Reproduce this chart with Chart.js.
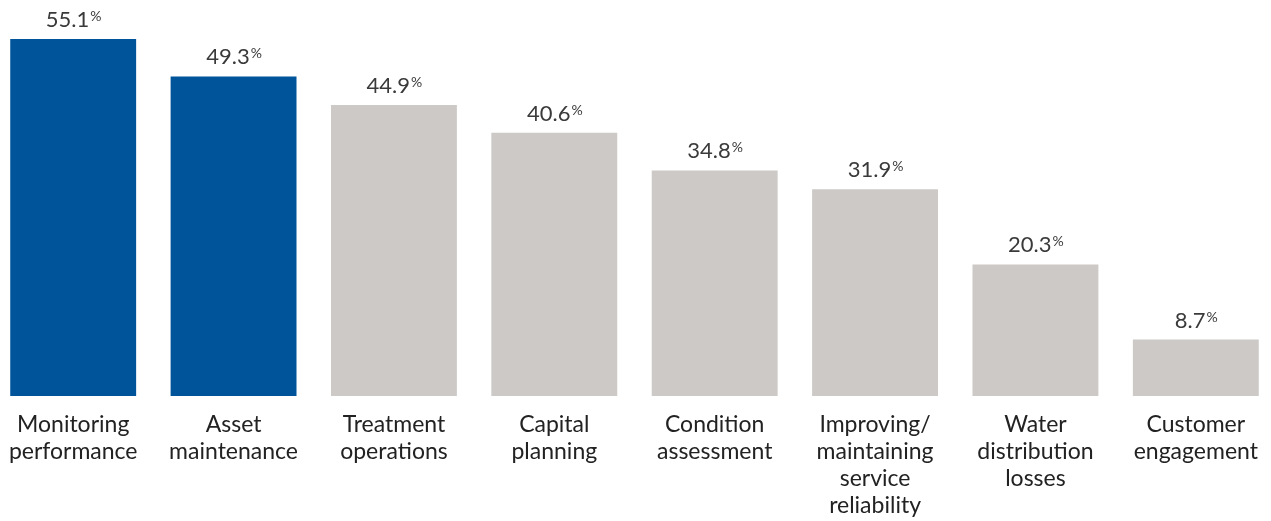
<!DOCTYPE html>
<html>
<head>
<meta charset="utf-8">
<script src="https://cdn.jsdelivr.net/npm/chart.js@4"></script>
<style>
  html, body { margin: 0; padding: 0; background: #fff; overflow: hidden; }
  #wrap { position: absolute; left: -7px; top: 0; width: 1283px; height: 521px; }
</style>
</head>
<body>
<div id="wrap"><canvas id="myChart"></canvas></div>
<script>
const categories = [
    ['Monitoring', 'performance'],
    ['Asset', 'maintenance'],
    ['Treatment', 'operations'],
    ['Capital', 'planning'],
    ['Condition', 'assessment'],
    ['Improving/', 'maintaining', 'service', 'reliability'],
    ['Water', 'distribution', 'losses'],
    ['Customer', 'engagement'],
];
const values = [55.1, 49.3, 44.9, 40.6, 34.8, 31.9, 20.3, 8.7];
const barColors = ['#00549a', '#00549a', '#ccc9c6', '#ccc9c6', '#ccc9c6', '#ccc9c6', '#ccc9c6', '#ccc9c6'];

const fontFamily = 'Lato, "Open Sans", sans-serif';

// value labels with a small % sign
const valueLabels = {
    id: 'valueLabels',
    afterDatasetsDraw(chart) {
        const c = chart.ctx;
        const meta = chart.getDatasetMeta(0);
        c.save();
        c.fillStyle = '#3a3a3a';
        c.textBaseline = 'alphabetic';
        meta.data.forEach((bar, i) => {
            const num = values[i].toFixed(1);
            c.font = '22px ' + fontFamily;
            const w1 = c.measureText(num).width;
            c.font = '14px ' + fontFamily;
            const w2 = c.measureText('%').width;
            const x0 = bar.x - (w1 + w2) / 2;
            const y = bar.y - 12;
            c.font = '22px ' + fontFamily;
            c.textAlign = 'left';
            c.fillText(num, x0, y);
            c.font = '14px ' + fontFamily;
            c.fillText('%', x0 + w1 + 1, y - 6);
        });
        c.restore();
    }
};

const ctx = document.getElementById('myChart');
chart = new Chart(ctx, {
    type: 'bar',
    data: {
        labels: categories,
        datasets: [{
            data: values,
            backgroundColor: barColors,
            borderWidth: 0,
            barPercentage: 0.785,
            categoryPercentage: 1,
        }],
    },
    options: {
        responsive: true,
        maintainAspectRatio: false,
        animation: false,
        layout: { padding: 0 },
        plugins: {
            legend: { display: false },
            tooltip: { enabled: false },
        },
        scales: {
            x: {
                grid: { display: false, drawTicks: false },
                border: { display: false },
                ticks: {
                    color: '#222',
                    padding: 15,
                    maxRotation: 0,
                    autoSkip: false,
                    font: { family: fontFamily, size: 23, lineHeight: 1.17 },
                },
                afterFit(scale) {
                    // fixed axis height, no extra side padding
                    scale.height = 125;
                    scale.paddingLeft = 0;
                    scale.paddingRight = 0;
                },
            },
            y: {
                display: false,
                min: 0,
                max: 61.1,
            },
        },
    },
    plugins: [valueLabels],
});
</script>
</body>
</html>
